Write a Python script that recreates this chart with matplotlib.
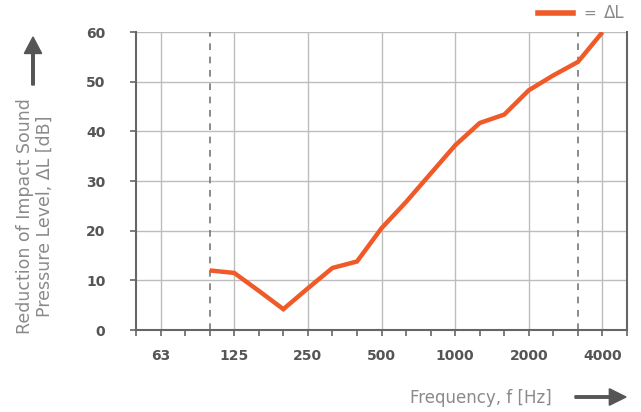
import numpy as np
import matplotlib
matplotlib.use('Agg')
import matplotlib.pyplot as plt

# Third-octave band centre frequencies (Hz) shown on the axis
bands = [50, 63, 80, 100, 125, 160, 200, 250, 315, 400, 500,
         630, 800, 1000, 1250, 1600, 2000, 2500, 3150, 4000, 5000]
octave_labels = ['63', '125', '250', '500', '1000', '2000', '4000']

# Measured reduction of impact sound pressure level, 100 Hz .. 4000 Hz
freq = [100, 125, 160, 200, 250, 315, 400, 500, 630, 800,
        1000, 1250, 1600, 2000, 2500, 3150, 4000]
delta_l = [12.0, 11.5, 7.9, 4.2, 8.4, 12.5, 13.8, 20.5, 25.8, 31.5,
           37.2, 41.7, 43.4, 48.3, 51.3, 54.0, 60.0]

orange = '#F05A28'
grey_txt = '#555555'
light_txt = '#8a8a8a'
grid_c = '#bdbdbd'

plt.rcParams['font.family'] = ['DejaVu Sans']

idx = {f: i for i, f in enumerate(bands)}
x = [idx[f] for f in freq]

fig = plt.figure(figsize=(6.41, 4.12), dpi=100)
ax = fig.add_axes([0.2122, 0.199, 0.766, 0.723])

ax.set_xlim(0, len(bands) - 1)
ax.set_ylim(0, 60)

# grid: octave lines and 10 dB steps
octave_pos = [idx[int(l)] for l in octave_labels]
for p in octave_pos:
    ax.axvline(p, color=grid_c, lw=1.0, zorder=1)
for v in range(10, 61, 10):
    ax.axhline(v, color=grid_c, lw=1.0, zorder=1)

# evaluation range limits
for f in (100, 3150):
    ax.axvline(idx[f], color='#777777', lw=1.2, ls=(0, (4, 4)), zorder=2)

ax.plot(x, delta_l, color=orange, lw=3.2, solid_capstyle='butt',
        solid_joinstyle='miter', zorder=3)

ax.set_xticks(range(len(bands)))
ax.set_xticklabels(['' if str(b) not in octave_labels else str(b) for b in bands])
ax.set_yticks(range(0, 61, 10))
ax.tick_params(axis='both', colors='#666666', length=4, width=1.2,
               labelcolor=grey_txt, labelsize=10)
ax.tick_params(axis='y', pad=18)
ax.tick_params(axis='x', pad=10)
for lab in ax.get_xticklabels() + ax.get_yticklabels():
    lab.set_fontweight('bold')

for s in ('left', 'bottom', 'right'):
    ax.spines[s].set_color('#666666')
    ax.spines[s].set_linewidth(1.5)
ax.spines['top'].set_visible(False)

# legend in the top right corner
fig.add_artist(plt.Line2D([538 / 641, 573 / 641], [1 - 13 / 412] * 2,
                          color=orange, lw=4, transform=fig.transFigure))
fig.text(583 / 641, 1 - 13 / 412, '=', color=light_txt, fontsize=11,
         va='center', ha='left')
fig.text(604 / 641, 1 - 13 / 412, '\u0394L', color=light_txt, fontsize=12,
         va='center', ha='left')

# axis titles with direction arrows
fig.text(35 / 641, 1 - 216 / 412,
         'Reduction of Impact Sound\nPressure Level, \u0394L [dB]',
         rotation=90, ha='center', va='center', color=light_txt,
         fontsize=12.5, linespacing=1.1)
fig.text(552 / 641, 1 - 398 / 412, 'Frequency, f [Hz]', ha='right',
         va='center', color=light_txt, fontsize=12)

fig.add_artist(matplotlib.patches.FancyArrow(
    33 / 641, 1 - 85 / 412, 0, 48 / 412, width=0.004, head_width=0.027,
    head_length=0.04, length_includes_head=True, color='#555555',
    transform=fig.transFigure))
fig.add_artist(matplotlib.patches.FancyArrow(
    575 / 641, 1 - 397 / 412, 51 / 641, 0, width=0.006, head_width=0.04,
    head_length=0.026, length_includes_head=True, color='#555555',
    transform=fig.transFigure))

fig.savefig('out.png', dpi=100)
